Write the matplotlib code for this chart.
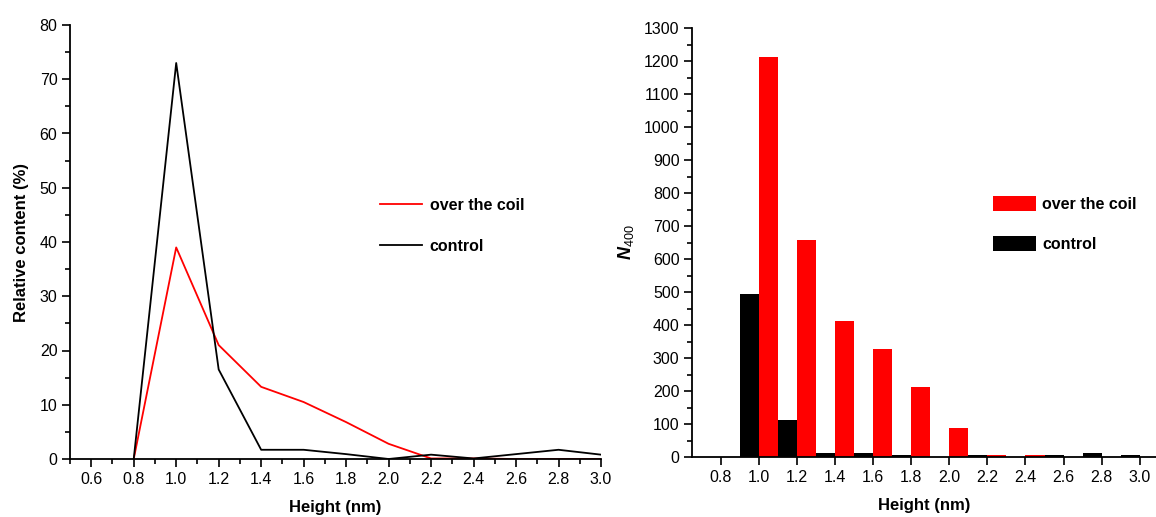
import numpy as np
import matplotlib
matplotlib.use("Agg")
import matplotlib.pyplot as plt
from matplotlib.ticker import MultipleLocator

plt.rcParams['font.family'] = ['Liberation Sans', 'DejaVu Sans']
plt.rcParams['mathtext.fontset'] = 'custom'
plt.rcParams['mathtext.rm'] = 'Liberation Sans'
plt.rcParams['mathtext.it'] = 'Liberation Sans:italic'
# bold italic N for the N400 label
plt.rcParams['mathtext.bf'] = 'Liberation Sans:bold:italic'

# --- data: left panel (relative content, %) ---
height = [0.8, 1.0, 1.2, 1.4, 1.6, 1.8, 2.0, 2.2, 2.4, 2.6, 2.8, 3.0]
coil_pct = [0, 39, 21, 13.3, 10.5, 6.8, 2.8, 0.1, 0.1, 0, 0, 0]
control_pct = [0, 73, 16.5, 1.7, 1.7, 0.9, 0, 0.8, 0.1, 0.9, 1.7, 0.8]

# --- data: right panel (N400 counts) ---
coil_n = [1212, 658, 413, 328, 213, 87, 6, 6, 0, 0, 0]
control_n = [493, 112, 12, 12, 6, 0, 6, 0, 6, 12, 6]
bins = [1.0, 1.2, 1.4, 1.6, 1.8, 2.0, 2.2, 2.4, 2.6, 2.8, 3.0]

W, H = 1156, 517
fig = plt.figure(figsize=(W / 100, H / 100), dpi=100)

def px_axes(x0, x1, ytop, ybot):
    return fig.add_axes([x0 / W, 1 - ybot / H, (x1 - x0) / W, (ybot - ytop) / H])

def style(ax):
    for s in ['top', 'right']:
        ax.spines[s].set_visible(False)
    for s in ['left', 'bottom']:
        ax.spines[s].set_linewidth(1.3)
    ax.tick_params(which='major', direction='out', length=6, width=1.2, labelsize=11.5, pad=3)
    ax.tick_params(which='minor', direction='out', length=3.5, width=1.2)

# left panel
ax1 = px_axes(70, 601, 25, 459)
ax1.plot(height, coil_pct, color='#ff0000', lw=1.3, label='over the coil')
ax1.plot(height, control_pct, color='black', lw=1.3, label='control')
ax1.set_xlim(0.5, 3.0)
ax1.set_ylim(0, 80)
ax1.xaxis.set_minor_locator(MultipleLocator(0.1))
ax1.yaxis.set_major_locator(MultipleLocator(10))
ax1.yaxis.set_minor_locator(MultipleLocator(5))
ax1.set_xticks(np.arange(0.6, 3.01, 0.2))
ax1.set_xticklabels([f'{v:.1f}' for v in np.arange(0.6, 3.01, 0.2)])
style(ax1)
ax1.set_xlabel('Height (nm)', fontsize=12, fontweight='bold', labelpad=10)
ax1.set_ylabel('Relative content (%)', fontsize=12, fontweight='bold', labelpad=8)
ax1.legend(loc='upper left', bbox_to_anchor=((372 - 70) / 531, 1 - (190 - 25) / 434),
           frameon=False, prop={'weight': 'bold', 'size': 11.5},
           handlelength=2.6, handletextpad=0.5, labelspacing=1.6, borderpad=0)

# right panel
ax2 = px_axes(692, 1156, 28, 457)
ax2.bar(np.array(bins) + 0.05, coil_n, width=0.1, color='#ff0000', label='over the coil')
ax2.bar(np.array(bins) - 0.05, control_n, width=0.1, color='black', label='control')
ax2.set_xlim(0.65, 3.085)
ax2.set_ylim(0, 1300)
ax2.set_xticks(np.arange(0.8, 3.01, 0.2))
ax2.set_xticklabels([f'{v:.1f}' for v in np.arange(0.8, 3.01, 0.2)])
ax2.yaxis.set_major_locator(MultipleLocator(100))
ax2.yaxis.set_minor_locator(MultipleLocator(50))
style(ax2)
ax2.set_xlabel('Height (nm)', fontsize=12, fontweight='bold', labelpad=10)
ax2.set_ylabel(r'$\mathbf{N}_{\mathit{400}}$', fontsize=13, labelpad=6)
ax2.legend(loc='upper left', bbox_to_anchor=((985 - 692) / 464, 1 - (188 - 28) / 429),
           frameon=False, prop={'weight': 'bold', 'size': 11.5},
           handlelength=2.7, handleheight=1.1, handletextpad=0.4, labelspacing=1.5, borderpad=0)

fig.savefig('out.png', dpi=100)
